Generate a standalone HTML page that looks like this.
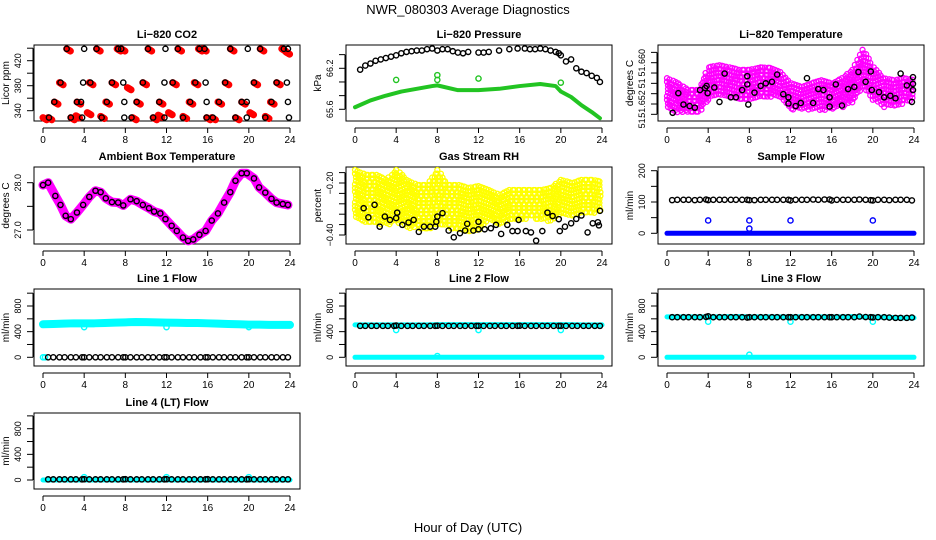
<!DOCTYPE html>
<html><head><meta charset="utf-8">
<style>
html,body{margin:0;padding:0;background:#fff;}
svg{display:block;font-family:"Liberation Sans",Arial,sans-serif;}
</style></head>
<body>
<svg id="chart" width="936" height="540" viewBox="0 0 936 540" xmlns="http://www.w3.org/2000/svg">
<rect x="0" y="0" width="936" height="540" fill="#fff"/>
<text x="468" y="14" text-anchor="middle" font-size="13">NWR_080303  Average Diagnostics</text>
<text x="468" y="532" text-anchor="middle" font-size="13">Hour of Day (UTC)</text>
</svg>
<script>
// ---------- data ----------
const hourTicks = [0,4,8,12,16,20,24];
const hourGrid = [0,1,2,3,4,5,6,7,8,9,10,11,12,13,14,15,16,17,18,19,20,21,22,23,24];

// CO2
const co2BlackH = [0.58,1.1,1.7,2.3,2.7,3.3,3.7,3.9,3.8,4.0,4.6,5.2,5.7,6.2,6.7,7.3,7.6,7.8,7.9,7.9,8.6,9.1,9.7,10.2,10.7,11.3,11.8,11.9,11.8,13.6,13.1,12.6,14.3,14.8,15.2,15.8,15.9,15.9,15.7,16.5,17.1,17.7,18.2,18.7,19.3,19.8,19.8,19.9,20.5,21.1,21.6,22.2,22.7,23.4,23.7,23.8,23.9,23.8];
const co2BlackV = [329,354,385,439,329,354,354,385,329,439,385,439,329,354,385,439,439,385,354,329,329,354,385,439,329,354,385,439,329,329,439,385,354,385,439,385,354,329,439,329,354,385,439,329,354,354,329,439,385,439,329,354,385,439,385,354,329,439];
const co2RedH = [2.3,5.2,7.2,7.6,10.2,13.1,15.1,15.5,18.2,21.1,23.2,23.6, 1.6,4.5,6.7,8.2,9.7,12.6,14.7,17.7,20.5,22.7, 1.1,3.3,6.1,9.1,11.3,14.2,17.0,19.3,22.1, 0.0,0.5,2.7,3.2,4.3,5.6,8.7,10.7,11.2,12.2,13.6,15.9,16.4,18.7,20.1,21.6];
const co2RedV = [439,439,439,439,439,439,439,439,439,439,439,434, 385,385,385,377,385,385,385,385,385,385, 354,354,354,354,354,354,354,354,354, 329,329,329,332,337,331,329,329,333,337,331,329,329,329,337,331];

// Pressure
const presBlackH = [0.5,1,1.5,2,2.5,3,3.5,4,4.5,5,5.5,6,6.5,7,7.5,8,8.5,9,9.5,10,10.5,11,12,12.5,13,14,15,15.8,16.5,17,17.5,18,18.5,19,19.5,19.8,20,20.5,21,21.5,22,22.5,23,23.5,23.8];
const presBlackV = [66.18,66.24,66.27,66.31,66.33,66.35,66.37,66.39,66.42,66.44,66.45,66.46,66.46,66.48,66.49,66.46,66.48,66.48,66.45,66.43,66.42,66.44,66.43,66.43,66.44,66.46,66.48,66.49,66.49,66.48,66.48,66.49,66.48,66.46,66.44,66.42,66.39,66.30,66.33,66.20,66.15,66.13,66.09,66.06,66.00];
const presGreenH = [0,1.5,3,4.5,6,7.5,8,10,12,14,16,18,19.5,20,21,22,23,23.8];
const presGreenV = [65.63,65.73,65.80,65.86,65.90,65.94,65.95,65.88,65.88,65.90,65.94,65.97,65.94,65.86,65.78,65.66,65.56,65.47];
const presOutH = [4,8,8,12,20];
const presOutV = [66.03,66.10,66.03,66.05,65.99];

// Li-820 temperature
const tempBlackH = [0.55,1.1,1.6,2.2,2.7,3.2,3.7,3.85,3.95,4.6,5.1,5.6,6.2,6.7,7.3,7.8,7.8,7.9,8.5,9.1,9.6,10.2,10.7,11.3,11.8,11.8,12.5,13.0,13.6,14.2,14.7,15.2,15.8,15.8,16.4,17.0,17.6,18.2,18.6,19.3,19.8,19.9,20.6,21.1,21.7,22.2,22.7,23.3,23.9,23.9,23.9,23.8];
const tempBlackV = [51.6503,51.6541,51.6519,51.6516,51.6513,51.6547,51.6551,51.6555,51.6541,51.6552,51.6524,51.6579,51.6533,51.6533,51.6547,51.6574,51.6558,51.6519,51.6542,51.6555,51.6560,51.6563,51.6577,51.6539,51.6533,51.6521,51.6516,51.6522,51.6570,51.6522,51.6549,51.6547,51.6533,51.6515,51.6558,51.6517,51.6549,51.6553,51.6582,51.6563,51.6583,51.6547,51.6543,51.6533,51.6536,51.6531,51.6579,51.6556,51.6572,51.6559,51.6547,51.6524];
const tempMagHi = [51.6570,51.6560,51.6547,51.6547,51.6591,51.6595,51.6591,51.6586,51.6586,51.6591,51.6590,51.6582,51.6560,51.6553,51.6560,51.6566,51.6560,51.6570,51.6586,51.6625,51.6591,51.6570,51.6566,51.6570,51.6566];
const tempMagLo = [51.6508,51.6502,51.6505,51.6499,51.6528,51.6534,51.6532,51.6528,51.6528,51.6534,51.6534,51.6528,51.6508,51.6508,51.6508,51.6508,51.6508,51.6514,51.6522,51.6553,51.6528,51.6514,51.6514,51.6522,51.6528];

// Ambient box temperature
const ambH = [0,0.5,1.2,1.7,2.2,2.7,3.3,3.9,4.5,5.1,5.6,6.1,6.7,7.3,7.8,8.5,9.1,9.7,10.3,10.8,11.4,11.9,12.5,13.0,13.6,14.1,14.6,15.2,15.8,16.4,17.0,17.6,18.2,18.7,19.3,19.8,20.5,21.0,21.6,22.2,22.7,23.3,23.8];
const ambV = [27.95,28.0,27.72,27.53,27.3,27.23,27.37,27.53,27.7,27.83,27.8,27.67,27.59,27.58,27.52,27.65,27.61,27.53,27.46,27.39,27.35,27.23,27.09,26.98,26.84,26.77,26.8,26.9,26.98,27.2,27.35,27.58,27.8,28.04,28.2,28.2,28.09,27.9,27.79,27.66,27.58,27.55,27.53];

// Gas stream RH
const rhYelHi = [-0.150,-0.169,-0.169,-0.188,-0.150,-0.188,-0.208,-0.208,-0.150,-0.208,-0.208,-0.219,-0.212,-0.227,-0.246,-0.227,-0.227,-0.227,-0.227,-0.219,-0.188,-0.200,-0.188,-0.188,-0.196];
const rhYelLo = [-0.335,-0.350,-0.362,-0.362,-0.350,-0.373,-0.373,-0.381,-0.362,-0.373,-0.381,-0.388,-0.381,-0.350,-0.362,-0.350,-0.342,-0.335,-0.342,-0.350,-0.323,-0.335,-0.323,-0.323,-0.304];
const rhBlackH = [0.84,1.3,1.9,2.4,2.9,3.4,4.0,4.1,4.6,5.2,5.7,6.2,6.7,7.3,7.8,7.9,8.0,8.5,9.1,9.6,10.2,10.7,10.9,11.5,12.0,12.0,12.6,13.2,13.7,14.2,14.8,15.3,15.8,15.9,16.6,17.1,17.6,18.2,18.7,19.2,19.8,19.9,20.4,21.0,21.5,22.0,22.6,23.1,23.6,23.7,23.8];
const rhBlackV = [-0.297,-0.332,-0.284,-0.368,-0.329,-0.342,-0.335,-0.314,-0.361,-0.352,-0.342,-0.388,-0.368,-0.368,-0.368,-0.349,-0.329,-0.316,-0.383,-0.409,-0.393,-0.383,-0.357,-0.383,-0.378,-0.349,-0.378,-0.374,-0.361,-0.396,-0.361,-0.385,-0.385,-0.342,-0.385,-0.390,-0.422,-0.385,-0.314,-0.327,-0.339,-0.385,-0.368,-0.355,-0.338,-0.325,-0.390,-0.355,-0.351,-0.363,-0.307];

// Flows (hourly means, black)
const flowHours = [0.5,1.0,1.6,2.1,2.7,3.2,3.8,4.0,4.5,5.1,5.6,6.2,6.7,7.3,7.8,8.0,8.5,9.1,9.6,10.2,10.7,11.3,11.8,12.0,12.5,13.1,13.6,14.2,14.7,15.3,15.8,16.0,16.5,17.1,17.6,18.2,18.7,19.3,19.8,20.0,20.5,21.1,21.6,22.2,22.7,23.3,23.8];
const sampleBlack = [106,107,107,107,106,107,108,106,107,107,107,107,107,107,107,106,106,107,107,107,107,107,107,105,107,107,107,108,107,108,108,105,107,107,107,107,108,107,106,105,107,107,106,107,107,107,105];
const line1Black = [0,0,0,0,0,0,0,0,0,0,0,0,0,0,0,0,0,0,0,0,0,0,0,0,0,0,0,0,0,0,0,0,0,0,0,0,0,0,0,0,0,0,0,0,0,0,0];
const line2Black = [490,490,490,490,490,490,490,495,490,490,490,490,490,490,490,492,490,490,490,490,490,490,490,490,490,490,490,490,490,490,490,492,490,490,490,490,490,490,490,490,490,490,490,490,490,490,490];
const line3Black = [625,625,625,625,625,625,630,640,625,625,625,625,625,625,620,625,625,625,625,625,625,625,625,625,625,625,625,625,625,625,625,625,625,625,625,625,635,628,625,622,625,625,620,615,615,615,620];
const line4Black = [10,10,10,10,10,10,10,12,10,10,10,10,10,10,10,12,10,10,10,10,10,10,10,12,10,10,10,10,10,10,10,12,10,10,10,10,10,10,10,12,10,10,10,10,10,10,10];
// Flows (raw, coloured bands on hourGrid)
const sampleBlue = [0,0,0,0,0,0,0,0,0,0,0,0,0,0,0,0,0,0,0,0,0,0,0,0,0];
const line1CyanHi = [515,520,525,530,530,530,535,540,545,550,548,545,540,538,535,535,530,525,520,515,510,510,505,505,505];
const line2CyanHi = [505,505,505,505,505,505,505,505,510,510,510,510,510,510,510,510,510,510,510,510,510,510,505,505,505];
const line2CyanLo = [0,0,0,0,0,0,0,0,0,0,0,0,0,0,0,0,0,0,0,0,0,0,0,0,0];
const line3CyanHi = [630,630,630,630,630,630,635,635,630,630,630,630,630,630,630,630,630,630,635,630,630,625,620,615,615];
const line3CyanLo = [0,0,0,0,0,0,0,0,0,0,0,0,0,0,0,0,0,0,0,0,0,0,0,0,0];
const line4Cyan = [0,0,0,0,0,0,0,0,0,0,0,0,0,0,0,0,0,0,0,0,0,0,0,0,0];
const sampleOutH = [4,8,8,12,20];
const sampleOutV = [41,41,15,41,41];
const line1OutH = [4,12,20];
const line1OutV = [470,470,470];
const line2OutH = [4,8,12,20];
const line2OutV = [425,20,425,425];
const line3OutH = [4,8,12,20];
const line3OutV = [555,40,555,555];
const line4OutH = [4,12,20];
const line4OutV = [45,45,45];

// ---------- drawing ----------
const NS = 'http://www.w3.org/2000/svg';
const svg = document.getElementById('chart');
function mk(tag, parent){ const e = document.createElementNS(NS, tag); parent.appendChild(e); return e; }
function X(p,h){ return p.l + 9 + h*(p.r - p.l - 19)/24; }
function Y(p,v){ return p.y1 + (v - p.v1)*(p.y2 - p.y1)/(p.v2 - p.v1); }

function panel(p){
  const g = mk('g', svg);
  
  
  p.g = g;
  const box = mk('rect', g);
  box.setAttribute('x', p.l); box.setAttribute('y', p.t);
  box.setAttribute('width', p.r - p.l); box.setAttribute('height', p.b - p.t);
  box.setAttribute('fill', 'none'); box.setAttribute('stroke', '#000'); box.setAttribute('stroke-width', '1');
  
  
  const tt = mk('text', g);
  tt.setAttribute('x', (p.l + p.r)/2); tt.setAttribute('y', p.t - 7);
  tt.setAttribute('text-anchor', 'middle'); tt.setAttribute('font-size', '11'); tt.setAttribute('font-weight', 'bold');
  tt.textContent = p.title;
  
  
  const xa = mk('line', g);
  xa.setAttribute('x1', X(p,0)); xa.setAttribute('x2', X(p,24));
  xa.setAttribute('y1', p.b + 7); xa.setAttribute('y2', p.b + 7); xa.setAttribute('stroke', '#000');
  
  
  hourTicks.forEach(h => {
    const tk = mk('line', g);
    tk.setAttribute('x1', X(p,h)); tk.setAttribute('x2', X(p,h));
    tk.setAttribute('y1', p.b + 7); tk.setAttribute('y2', p.b + 12); tk.setAttribute('stroke', '#000');
    
    
    const lb = mk('text', g);
    lb.setAttribute('x', X(p,h)); lb.setAttribute('y', p.b + 22);
    lb.setAttribute('text-anchor', 'middle'); lb.setAttribute('font-size', '10');
    lb.textContent = h;
    
    
  });
  const ys = p.ticks.map(v => Y(p,v));
  const ya = mk('line', g);
  ya.setAttribute('x1', p.l - 1); ya.setAttribute('x2', p.l - 1);
  ya.setAttribute('y1', Math.min(...ys)); ya.setAttribute('y2', Math.max(...ys)); ya.setAttribute('stroke', '#000');
  
  
  p.ticks.forEach(v => {
    const tk = mk('line', g);
    tk.setAttribute('x1', p.l - 7); tk.setAttribute('x2', p.l - 1);
    tk.setAttribute('y1', Y(p,v)); tk.setAttribute('y2', Y(p,v)); tk.setAttribute('stroke', '#000');
    
    
  });
  p.labels.forEach((v, i) => {
    const lb = mk('text', g);
    const lx = p.l - 13, ly = Y(p,v);
    lb.setAttribute('x', lx); lb.setAttribute('y', ly);
    lb.setAttribute('text-anchor', 'middle'); lb.setAttribute('font-size', '9');
    lb.setAttribute('transform', 'rotate(-90 ' + lx + ' ' + ly + ')');
    lb.textContent = p.labelText[i];
    
    
  });
  const yl = mk('text', g);
  const yx = p.l - 25, yy = (p.t + p.b)/2;
  yl.setAttribute('x', yx); yl.setAttribute('y', yy);
  yl.setAttribute('text-anchor', 'middle'); yl.setAttribute('font-size', '10');
  yl.setAttribute('transform', 'rotate(-90 ' + yx + ' ' + yy + ')');
  yl.textContent = p.ylab;
  
  
  return p;
}

function points(p, hs, vs, color, name, r, sw){
  for (let i = 0; i < hs.length; i++){
    const c = mk('circle', p.g);
    c.setAttribute('cx', X(p, hs[i])); c.setAttribute('cy', Y(p, vs[i]));
    c.setAttribute('r', r || 2.6); c.setAttribute('fill', 'none');
    c.setAttribute('stroke', color); c.setAttribute('stroke-width', sw || 1.4);
    
    
  }
}
function band(p, hs, vs, color, name, w){
  const pl = mk('polyline', p.g);
  pl.setAttribute('points', hs.map((h,i) => X(p,h) + ',' + Y(p,vs[i])).join(' '));
  pl.setAttribute('fill', 'none'); pl.setAttribute('stroke', color);
  pl.setAttribute('stroke-width', w); pl.setAttribute('stroke-linecap', 'round'); pl.setAttribute('stroke-linejoin', 'round');
  
  
}
function cloud(p, hi, lo, color, name){
  for (let i = 0; i < hourGrid.length - 1; i++){
    for (let s = 0; s < 4; s++){
      const f = s/4, h = hourGrid[i] + f;
      const yTop = Y(p, hi[i] + (hi[i+1]-hi[i])*f), yBot = Y(p, lo[i] + (lo[i+1]-lo[i])*f);
      for (let y = Math.min(yTop,yBot); y <= Math.max(yTop,yBot); y += 3.6){
        const c = mk('circle', p.g);
        c.setAttribute('cx', X(p,h) + ((s + Math.round(y)) % 2)); c.setAttribute('cy', y);
        c.setAttribute('r', 2.5); c.setAttribute('fill', 'none');
        c.setAttribute('stroke', color); c.setAttribute('stroke-width', 1.3);
        
        
      }
    }
  }
}

const flowTicks = [0,200,400,600,800,1000];
const flowLab = [0,400,800];
const flowLabT = ['0','400','800'];

const pCO2 = panel({name:'panel-co2', title:'Li\u2212820 CO2', ylab:'Licor ppm', l:34, r:300, t:45, b:121,
  v1:340, y1:110.7, v2:420, y2:60.7, ticks:[340,360,380,400,420,440], labels:[340,380,420], labelText:['340','380','420']});
for (let i = 0; i < co2RedH.length; i++){
  const hs = [], vs = [];
  for (let k = 0; k < 7; k++){ hs.push(co2RedH[i] + k*0.06); vs.push(co2RedV[i] - k*0.6); }
  points(pCO2, hs, vs, '#ff0000', 'co2-raw-point', 2.6, 1.8);
}
points(pCO2, co2BlackH, co2BlackV, '#000', 'co2-mean-point');

const pPres = panel({name:'panel-pressure', title:'Li\u2212820 Pressure', ylab:'kPa', l:346, r:612, t:45, b:121,
  v1:65.6, y1:109.3, v2:66.2, y2:68.3, ticks:[65.6,65.8,66.0,66.2,66.4], labels:[65.6,66.2], labelText:['65.6','66.2']});
band(pPres, presGreenH, presGreenV, '#22c422', 'pressure-raw-band', 4);
points(pPres, presOutH, presOutV, '#22c422', 'pressure-raw-outlier');
points(pPres, presBlackH, presBlackV, '#000', 'pressure-mean-point');

const pTemp = panel({name:'panel-li820-temperature', title:'Li\u2212820 Temperature', ylab:'degrees C', l:658, r:924, t:45, b:121,
  v1:51.652, y1:104, v2:51.660, y2:62.7, ticks:[51.650,51.652,51.654,51.656,51.658,51.660,51.662],
  labels:[51.6485,51.652,51.656,51.660], labelText:['51.','51.652','51','51.660']});
cloud(pTemp, tempMagHi, tempMagLo, '#ff00ff', 'temperature-raw-point');
points(pTemp, tempBlackH, tempBlackV, '#000', 'temperature-mean-point');

const pAmb = panel({name:'panel-ambient-box-temperature', title:'Ambient Box Temperature', ylab:'degrees C', l:34, r:300, t:167, b:244,
  v1:28.0, y1:182.7, v2:27.0, y2:230, ticks:[27.0,27.5,28.0], labels:[27.0,28.0], labelText:['27.0','28.0']});
band(pAmb, ambH, ambV, '#ff00ff', 'ambient-raw-band', 9);
points(pAmb, ambH, ambV, '#000', 'ambient-mean-point');

const pRH = panel({name:'panel-gas-stream-rh', title:'Gas Stream RH', ylab:'percent', l:346, r:612, t:167, b:244,
  v1:-0.2, y1:183, v2:-0.4, y2:235, ticks:[-0.16,-0.2,-0.24,-0.28,-0.32,-0.36,-0.4], labels:[-0.2,-0.4], labelText:['\u22120.20','\u22120.40']});
cloud(pRH, rhYelHi, rhYelLo, '#ffff00', 'rh-raw-point');
points(pRH, rhBlackH, rhBlackV, '#000', 'rh-mean-point');

const pSF = panel({name:'panel-sample-flow', title:'Sample Flow', ylab:'ml/min', l:658, r:924, t:167, b:244,
  v1:0, y1:233.3, v2:200, y2:170.7, ticks:[0,50,100,150,200], labels:[0,100,200], labelText:['0','100','200']});
band(pSF, hourGrid, sampleBlue, '#0000ff', 'sample-flow-raw-band', 5);
points(pSF, sampleOutH, sampleOutV, '#0000ff', 'sample-flow-outlier');
points(pSF, flowHours, sampleBlack, '#000', 'sample-flow-mean-point');

const pL1 = panel({name:'panel-line1-flow', title:'Line 1 Flow', ylab:'ml/min', l:34, r:300, t:289, b:366,
  v1:0, y1:357.3, v2:800, y2:306, ticks:flowTicks, labels:flowLab, labelText:flowLabT});
band(pL1, hourGrid, line1CyanHi, '#00ffff', 'line1-raw-band', 8);
points(pL1, [0,0.2], [0,0], '#00ffff', 'line1-raw-point');
points(pL1, line1OutH, line1OutV, '#00ffff', 'line1-outlier');
points(pL1, flowHours, line1Black, '#000', 'line1-mean-point');

const pL2 = panel({name:'panel-line2-flow', title:'Line 2 Flow', ylab:'ml/min', l:346, r:612, t:289, b:366,
  v1:0, y1:357.3, v2:800, y2:306, ticks:flowTicks, labels:flowLab, labelText:flowLabT});
band(pL2, hourGrid, line2CyanHi, '#00ffff', 'line2-raw-band-high', 5);
band(pL2, hourGrid, line2CyanLo, '#00ffff', 'line2-raw-band-low', 5);
points(pL2, line2OutH, line2OutV, '#00ffff', 'line2-outlier');
points(pL2, flowHours, line2Black, '#000', 'line2-mean-point');

const pL3 = panel({name:'panel-line3-flow', title:'Line 3 Flow', ylab:'ml/min', l:658, r:924, t:289, b:366,
  v1:0, y1:357.3, v2:800, y2:306, ticks:flowTicks, labels:flowLab, labelText:flowLabT});
band(pL3, hourGrid, line3CyanHi, '#00ffff', 'line3-raw-band-high', 5);
band(pL3, hourGrid, line3CyanLo, '#00ffff', 'line3-raw-band-low', 5);
points(pL3, line3OutH, line3OutV, '#00ffff', 'line3-outlier');
points(pL3, flowHours, line3Black, '#000', 'line3-mean-point');

const pL4 = panel({name:'panel-line4-flow', title:'Line 4 (LT) Flow', ylab:'ml/min', l:34, r:300, t:413, b:489,
  v1:0, y1:480, v2:800, y2:428.7, ticks:flowTicks, labels:flowLab, labelText:flowLabT});
band(pL4, hourGrid, line4Cyan, '#00ffff', 'line4-raw-band', 5);
points(pL4, line4OutH, line4OutV, '#00ffff', 'line4-outlier');
points(pL4, flowHours, line4Black, '#000', 'line4-mean-point');
</script>
</body></html>
